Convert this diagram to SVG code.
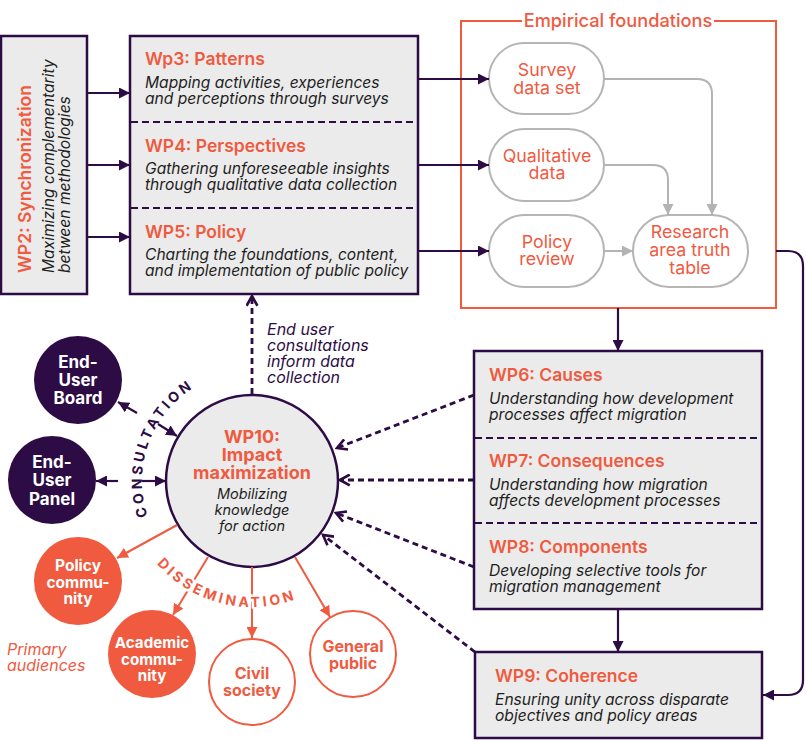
<svg xmlns="http://www.w3.org/2000/svg" width="806" height="740" viewBox="0 0 806 740">
<style>
text{font-family:Inter,"Noto Sans","Liberation Sans",sans-serif}
.box{fill:#ebebeb;stroke:#2d0b45;stroke-width:2.5}
.div{stroke:#2d0b45;stroke-width:2;stroke-dasharray:7 4;fill:none}
.tt{fill:#f05a3f;font-size:17.5px;font-weight:600}
.sb{fill:#1e1e1e;font-size:15.6px;font-style:italic}
.pill{fill:#fff;stroke:#b5b5b5;stroke-width:2}
.pt{fill:#f05a3f;font-size:17.8px;text-anchor:middle}
.pl{stroke:#2d0b45;stroke-width:2.2;fill:none}
.gl{stroke:#b3b3b3;stroke-width:2;fill:none}
.ol{stroke:#f05a3f;stroke-width:2;fill:none}
.dl{stroke:#2d0b45;stroke-width:2.8;stroke-dasharray:6 4;fill:none}
.wt{fill:#fff;font-size:17px;font-weight:700;text-anchor:middle}
.ot{fill:#f05a3f;font-size:16px;font-weight:700;text-anchor:middle}
.arc{font-size:14px;font-weight:700;letter-spacing:3.2px}
</style>
<defs>
<marker id="ap" viewBox="0 0 10 10" refX="10" refY="5" markerWidth="11" markerHeight="11" markerUnits="userSpaceOnUse" orient="auto"><path d="M0,0 L10,5 L0,10 z" fill="#2d0b45"/></marker>
<marker id="ag" viewBox="0 0 10 10" refX="10" refY="5" markerWidth="11" markerHeight="11" markerUnits="userSpaceOnUse" orient="auto"><path d="M0,0 L10,5 L0,10 z" fill="#b3b3b3"/></marker>
<marker id="ao" viewBox="0 0 10 10" refX="10" refY="5" markerWidth="11" markerHeight="11" markerUnits="userSpaceOnUse" orient="auto"><path d="M0,0 L10,5 L0,10 z" fill="#f05a3f"/></marker>
<marker id="ac" viewBox="0 0 12 12" refX="10" refY="6" markerWidth="13" markerHeight="13" markerUnits="userSpaceOnUse" orient="auto"><path d="M1,1 L10,6 L1,11" fill="none" stroke="#2d0b45" stroke-width="2.4"/></marker>
<path id="consArc" d="M156.7,536 A110,110 0 0 1 214.4,377.6"/>
<path id="dissArc" d="M142.9,544 A126,126 0 0 0 318.8,587.9"/>
</defs>

<g id="wp2">
<rect class="box" x="1" y="36" width="86" height="258"/>
<text class="tt" transform="translate(31,273) rotate(-90)" style="font-size:17.5px">WP2: Synchronization</text>
<text class="sb" transform="translate(54,273) rotate(-90)">Maximizing complementarity</text>
<text class="sb" transform="translate(70,273) rotate(-90)">between methodologies</text>
</g>

<g id="wp3-5">
<rect class="box" x="130" y="36" width="288" height="258"/>
<line class="div" x1="131" y1="122" x2="417" y2="122"/>
<line class="div" x1="131" y1="208" x2="417" y2="208"/>
</g>
<g id="wp3">
<text class="tt" x="145" y="65">Wp3: Patterns</text>
<text class="sb" x="145" y="88">Mapping activities, experiences</text>
<text class="sb" x="145" y="104">and perceptions through surveys</text>
</g>
<g id="wp4">
<text class="tt" x="145" y="152">WP4: Perspectives</text>
<text class="sb" x="145" y="174">Gathering unforeseeable insights</text>
<text class="sb" x="145" y="190">through qualitative data collection</text>
</g>
<g id="wp5">
<text class="tt" x="145" y="238">WP5: Policy</text>
<text class="sb" x="145" y="260">Charting the foundations, content,</text>
<text class="sb" x="145" y="276">and implementation of public policy</text>
</g>

<g id="empirical">
<rect x="461" y="21" width="315" height="287" fill="#fff" stroke="#f05a3f" stroke-width="2"/>
<rect x="522" y="12" width="192" height="18" fill="#fff"/>
<text x="618" y="27" text-anchor="middle" fill="#f05a3f" style="font-size:18.2px;font-weight:500">Empirical foundations</text>
</g>
<g id="survey">
<rect class="pill" x="489" y="43" width="115" height="71" rx="35.5"/>
<text class="pt" x="547" y="76">Survey</text>
<text class="pt" x="547" y="94">data set</text>
</g>
<g id="qualitative">
<rect class="pill" x="489" y="129" width="115" height="72" rx="36"/>
<text class="pt" x="547" y="162">Qualitative</text>
<text class="pt" x="547" y="179">data</text>
</g>
<g id="policyreview">
<rect class="pill" x="489" y="215" width="115" height="72" rx="36"/>
<text class="pt" x="547" y="248">Policy</text>
<text class="pt" x="547" y="265">review</text>
</g>
<g id="truthtable">
<rect class="pill" x="633" y="215" width="115" height="72" rx="36"/>
<text class="pt" x="690" y="238">Research</text>
<text class="pt" x="690" y="256">area truth</text>
<text class="pt" x="690" y="274">table</text>
</g>

<g id="wp6-8">
<rect class="box" x="474" y="351" width="288" height="258"/>
<line class="div" x1="475" y1="438" x2="761" y2="438"/>
<line class="div" x1="475" y1="523" x2="761" y2="523"/>
</g>
<g id="wp6">
<text class="tt" x="489" y="381">WP6: Causes</text>
<text class="sb" x="489" y="404">Understanding how development</text>
<text class="sb" x="489" y="420">processes affect migration</text>
</g>
<g id="wp7">
<text class="tt" x="489" y="467">WP7: Consequences</text>
<text class="sb" x="489" y="490">Understanding how migration</text>
<text class="sb" x="489" y="506">affects development processes</text>
</g>
<g id="wp8">
<text class="tt" x="489" y="553">WP8: Components</text>
<text class="sb" x="489" y="576">Developing selective tools for</text>
<text class="sb" x="489" y="592">migration management</text>
</g>
<g id="wp9">
<rect class="box" x="475" y="652" width="287" height="86"/>
<text class="tt" x="495" y="682">WP9: Coherence</text>
<text class="sb" x="495" y="705">Ensuring unity across disparate</text>
<text class="sb" x="495" y="721">objectives and policy areas</text>
</g>

<g id="enduser-note">
<text style="fill:#2d0b45;font-size:16px;font-style:italic"><tspan x="267" y="335">End user</tspan><tspan x="267" y="351">consultations</tspan><tspan x="267" y="367">inform data</tspan><tspan x="267" y="383">collection</tspan></text>
</g>

<g id="wp10">
<circle cx="252" cy="481" r="86" fill="#ebebeb" stroke="#2d0b45" stroke-width="2.5"/>
<text x="252" y="443" text-anchor="middle" fill="#f05a3f" style="font-size:18px;font-weight:700">WP10:</text>
<text x="252" y="461" text-anchor="middle" fill="#f05a3f" style="font-size:18px;font-weight:700">Impact</text>
<text x="252" y="479" text-anchor="middle" fill="#f05a3f" style="font-size:18px;font-weight:700">maximization</text>
<text x="252" y="499" text-anchor="middle" fill="#1e1e1e" style="font-size:14.5px;font-style:italic">Mobilizing</text>
<text x="252" y="515" text-anchor="middle" fill="#1e1e1e" style="font-size:14.5px;font-style:italic">knowledge</text>
<text x="252" y="531" text-anchor="middle" fill="#1e1e1e" style="font-size:14.5px;font-style:italic">for action</text>
</g>

<g id="board">
<circle cx="78" cy="380" r="44" fill="#2d0b45"/>
<text class="wt" x="78" y="368">End-</text>
<text class="wt" x="78" y="386">User</text>
<text class="wt" x="78" y="404">Board</text>
</g>
<g id="panel">
<circle cx="52" cy="480" r="44" fill="#2d0b45"/>
<text class="wt" x="52" y="468">End-</text>
<text class="wt" x="52" y="486">User</text>
<text class="wt" x="52" y="505">Panel</text>
</g>
<g id="policycommunity">
<circle cx="78" cy="581" r="44" fill="#f05a3f"/>
<text class="wt" x="78" y="571" style="font-size:15.5px">Policy</text>
<text class="wt" x="78" y="588" style="font-size:15.5px">commu-</text>
<text class="wt" x="78" y="604" style="font-size:15.5px">nity</text>
</g>
<g id="academic">
<circle cx="152" cy="654" r="44" fill="#f05a3f"/>
<text class="wt" x="152" y="648" style="font-size:15.2px">Academic</text>
<text class="wt" x="152" y="665" style="font-size:15.2px">commu-</text>
<text class="wt" x="152" y="681" style="font-size:15.2px">nity</text>
</g>
<g id="civil">
<circle cx="252" cy="682" r="43" fill="#fff" stroke="#f05a3f" stroke-width="2"/>
<text class="ot" x="252" y="679">Civil</text>
<text class="ot" x="252" y="696">society</text>
</g>
<g id="public">
<circle cx="353" cy="654" r="43" fill="#fff" stroke="#f05a3f" stroke-width="2"/>
<text class="ot" x="353" y="652">General</text>
<text class="ot" x="353" y="669">public</text>
</g>
<g id="primary">
<text fill="#f05a3f" style="font-size:16px;font-style:italic"><tspan x="7" y="655">Primary</tspan><tspan x="7" y="671">audiences</tspan></text>
</g>

<g id="connectors">
<line class="pl" x1="87" y1="93" x2="130" y2="93" marker-end="url(#ap)"/>
<line class="pl" x1="87" y1="165" x2="130" y2="165" marker-end="url(#ap)"/>
<line class="pl" x1="87" y1="237" x2="130" y2="237" marker-end="url(#ap)"/>
<line class="pl" x1="418" y1="79" x2="489" y2="79" marker-end="url(#ap)"/>
<line class="pl" x1="418" y1="165" x2="489" y2="165" marker-end="url(#ap)"/>
<line class="pl" x1="418" y1="251" x2="489" y2="251" marker-end="url(#ap)"/>
<path class="gl" d="M604,79 H697 Q712,79 712,94 V215" marker-end="url(#ag)"/>
<path class="gl" d="M604,165 H653 Q668,165 668,180 V215" marker-end="url(#ag)"/>
<line class="gl" x1="604" y1="251" x2="633" y2="251" marker-end="url(#ag)"/>
<path class="pl" d="M776,251 H788 Q803,251 803,266 V680 Q803,695 788,695 H763" marker-end="url(#ap)"/>
<line class="pl" x1="618" y1="308" x2="618" y2="351" marker-end="url(#ap)"/>
<line class="pl" x1="618" y1="609" x2="618" y2="652" marker-end="url(#ap)"/>
<line class="dl" x1="474" y1="395" x2="337" y2="448" marker-end="url(#ac)"/>
<line class="dl" x1="474" y1="480" x2="340" y2="480" marker-end="url(#ac)"/>
<line class="dl" x1="474" y1="567" x2="336" y2="513" marker-end="url(#ac)"/>
<line class="dl" x1="475" y1="652" x2="323" y2="535" marker-end="url(#ac)"/>
<line class="dl" x1="252" y1="394" x2="252" y2="296" marker-end="url(#ac)"/>
<line class="pl" x1="137" y1="413" x2="118" y2="402" marker-end="url(#ap)"/>
<line class="pl" x1="158" y1="424" x2="177" y2="436" marker-end="url(#ap)"/>
<line class="pl" x1="118" y1="481" x2="96" y2="481" marker-end="url(#ap)"/>
<line class="pl" x1="142" y1="481" x2="166" y2="481" marker-end="url(#ap)"/>
<line class="ol" x1="177" y1="525" x2="117" y2="558" marker-end="url(#ao)"/>
<line class="ol" x1="208" y1="557" x2="173" y2="615" marker-end="url(#ao)"/>
<line class="ol" x1="252" y1="567" x2="252" y2="638" marker-end="url(#ao)"/>
<line class="ol" x1="295" y1="557" x2="330" y2="617" marker-end="url(#ao)"/>
</g>

<g id="consultation-label">
<text class="arc" fill="#2d0b45"><textPath href="#consArc" startOffset="50%" text-anchor="middle">CONSULTATION</textPath></text>
</g>
<g id="dissemination-label">
<text class="arc" fill="#f05a3f" stroke="#fff" stroke-width="5" paint-order="stroke" stroke-linejoin="round"><textPath href="#dissArc" startOffset="50%" text-anchor="middle">DISSEMINATION</textPath></text>
</g>
</svg>
